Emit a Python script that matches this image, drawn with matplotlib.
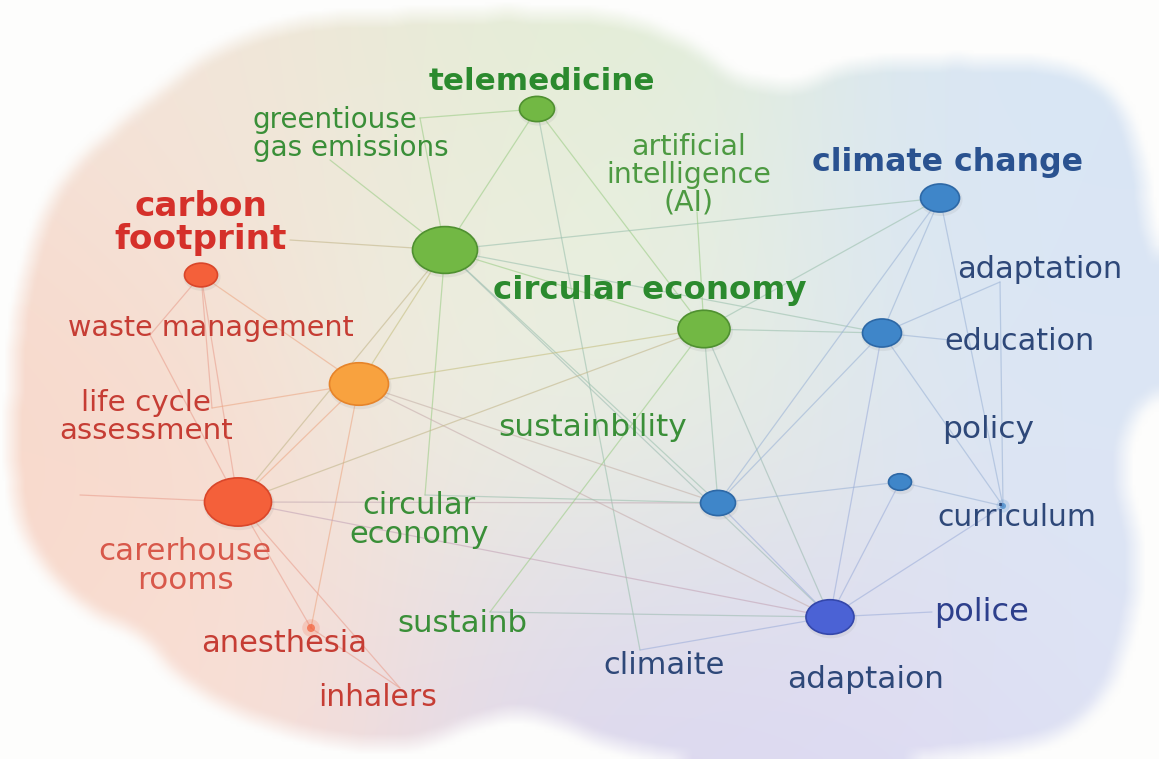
import numpy as np
import matplotlib
matplotlib.use("Agg")
import matplotlib.pyplot as plt
from matplotlib.patches import Ellipse
from matplotlib.path import Path

# keyword nodes: layout position (px), circle width, cluster
node_names = ["tele", "hubG", "cfp", "orng", "hubR", "ce", "cc", "bmid",
              "blow", "bsml", "curr", "adpt", "anes"]
node_x = [537, 445, 201, 359, 238, 704, 940, 882, 718, 900, 1003, 830, 311]
node_y = [109, 250, 275, 384, 502, 329, 198, 333, 503, 482, 506, 617, 628]
node_w = [35, 65, 33, 59, 67, 52, 39, 39, 35, 23, 6, 48, 8]
node_cluster = ["g", "g", "r", "o", "r", "g", "b", "b", "b", "b", "b", "i", "r"]

# label ends that links run into (no circle drawn)
anchor_names = ["ghgA", "ghgB", "cfpL", "aiL", "adL", "eduL", "ceL", "lcaL",
                "left", "susL", "climL", "policeL", "inhL", "wmL"]
anchor_x = [420, 330, 290, 697, 1000, 950, 425, 212, 80, 490, 640, 932, 400, 150]
anchor_y = [118, 160, 240, 212, 282, 340, 495, 408, 495, 612, 650, 612, 688, 335]
anchor_cluster = ["g", "g", "r", "g", "b", "b", "g", "r", "r", "g", "b", "b", "r", "r"]

edges = [
    ("tele", "hubG"), ("tele", "ce"), ("tele", "ghgA"), ("tele", "climL"),
    ("hubG", "cc"), ("hubG", "ce"), ("hubG", "bmid"), ("hubG", "cfpL"),
    ("hubG", "orng"), ("hubG", "ceL"), ("hubG", "ghgB"), ("hubG", "ghgA"),
    ("hubG", "blow"), ("hubG", "adpt"), ("hubG", "hubR"),
    ("cfp", "hubR"), ("cfp", "lcaL"), ("cfp", "orng"), ("cfp", "wmL"),
    ("orng", "ce"), ("orng", "lcaL"), ("orng", "hubR"), ("orng", "blow"),
    ("orng", "adpt"), ("orng", "anes"),
    ("hubR", "ce"), ("hubR", "blow"), ("hubR", "anes"), ("hubR", "inhL"),
    ("hubR", "left"), ("hubR", "adpt"), ("hubR", "wmL"),
    ("ce", "bmid"), ("ce", "cc"), ("ce", "blow"), ("ce", "adpt"),
    ("ce", "susL"), ("ce", "aiL"),
    ("cc", "bmid"), ("cc", "curr"), ("cc", "blow"),
    ("bmid", "adpt"), ("bmid", "blow"), ("bmid", "curr"), ("bmid", "adL"),
    ("bmid", "eduL"),
    ("blow", "bsml"), ("blow", "adpt"), ("blow", "ceL"),
    ("bsml", "adpt"), ("bsml", "curr"),
    ("adpt", "policeL"), ("adpt", "curr"), ("adpt", "susL"), ("adpt", "climL"),
    ("anes", "inhL"), ("adL", "curr"),
]

label_text = ["telemedicine", "greentiouse\ngas emissions", "artificial\nintelligence\n(AI)",
              "climate change", "carbon\nfootprint", "circular economy", "waste management",
              "adaptation", "education", "life cycle\nassessment", "sustainbility", "policy",
              "circular\neconomy", "curriculum", "carerhouse\nrooms", "sustainb", "police",
              "anesthesia", "climaite", "adaptaion", "inhalers"]
label_x = [542, 253, 689, 948, 201, 650, 211, 1040, 1020, 146, 593, 988, 419, 1017, 185,
           462, 982, 284, 664, 866, 378]
label_y = [81, 134, 175, 162, 223, 291, 328, 269, 342, 417, 427, 430, 520, 517, 566,
           624, 612, 643, 665, 680, 698]
label_style = ["gB", "g", "gL", "bB", "rB", "gB", "r", "b", "b", "r", "g", "b", "g", "b",
               "rL", "g", "i", "r", "b", "b", "r"]
label_size = [22.3, 20, 20.5, 22.8, 24.7, 23.4, 20.6, 22, 21.8, 21.2, 22.5, 22.5, 22,
              21.4, 22.3, 22.2, 23, 22, 22, 22.5, 21.5]

# soft background blob outline
blob_x = [300, 400, 520, 620, 690, 740, 800, 850, 950, 1060, 1115, 1140, 1150, 1175, 1175,
          1135, 1122, 1135, 1132, 1105, 1050, 950, 820, 700, 610, 560, 515, 470, 410, 330,
          240, 180, 140, 85, 40, 15, 12, 20, 50, 100, 160, 220]
blob_y = [22, 15, 12, 18, 45, 78, 84, 66, 60, 66, 98, 160, 230, 300, 370, 415, 470, 540,
          610, 690, 735, 752, 762, 758, 742, 722, 712, 722, 742, 738, 712, 675, 635, 605,
          560, 500, 400, 300, 200, 140, 90, 48]

fill = {"g": "#72b844", "r": "#f4603a", "o": "#f8a23f", "b": "#3f86c9", "i": "#4b62d5"}
rim = {"g": "#4f9030", "r": "#d9462a", "o": "#e6842a", "b": "#2d68a6", "i": "#3447aa"}
link = {"g": "#9dcd88", "r": "#e9a090", "o": "#eeb27e", "b": "#9db4d6", "i": "#a0aade"}
text_col = {"gB": "#2b8a2e", "g": "#3a8f38", "gL": "#4d9a42", "bB": "#2a5290",
            "b": "#2e4879", "i": "#2d3f8c", "rB": "#d5302a", "r": "#c63d34", "rL": "#d8584a"}

W, H = 1159, 759
fig = plt.figure(figsize=(W / 100, H / 100), dpi=100, facecolor="#fdfdfc")
ax = fig.add_axes([0, 0, 1, 1])
ax.axis("off")


def catmull(px, py, n=24):
    p = np.column_stack([px, py]).astype(float)
    out = []
    for i in range(len(p)):
        p0, p1, p2, p3 = p[i - 1], p[i], p[(i + 1) % len(p)], p[(i + 2) % len(p)]
        for t in np.linspace(0, 1, n, endpoint=False):
            t2, t3 = t * t, t * t * t
            out.append(0.5 * ((2 * p1) + (-p0 + p2) * t + (2 * p0 - 5 * p1 + 4 * p2 - p3) * t2
                              + (-p0 + 3 * p1 - 3 * p2 + p3) * t3))
    return np.array(out)


def box_blur(a, r):
    k = 2 * r + 1
    p = np.pad(a, r, mode="edge")
    c = np.cumsum(np.cumsum(p, 0), 1)
    c = np.pad(c, ((1, 0), (1, 0)))
    return (c[k:, k:] - c[:-k, k:] - c[k:, :-k] + c[:-k, :-k]) / (k * k)


# background colour field
step = 3
gx, gy = np.meshgrid(np.arange(0, W, step), np.arange(0, H, step))
spots = [(110, 420, "#f8d8cb"), (280, 660, "#fbe0d4"), (250, 150, "#f5e4da"),
         (520, 120, "#e0eed4"), (520, 330, "#f1f1e6"), (650, 430, "#e6f0dc"),
         (980, 250, "#d9e6f5"), (1060, 500, "#dde5f5"), (790, 700, "#dfdaf3"),
         (590, 700, "#d8d4f2")]
acc = np.zeros(gx.shape + (3,))
wsum = np.zeros(gx.shape)
for sx, sy, col in spots:
    w = np.exp(-((gx - sx) ** 2 + (gy - sy) ** 2) / (2 * 170.0 ** 2)) + 1e-9
    acc += w[..., None] * np.array(matplotlib.colors.to_rgb(col))
    wsum += w
rgb = acc / wsum[..., None]
outline = catmull(blob_x, blob_y)
inside = Path(outline).contains_points(np.column_stack([gx.ravel(), gy.ravel()]))
mask = box_blur(inside.reshape(gx.shape).astype(float), 3)
img = np.dstack([rgb, mask])
ax.imshow(img, extent=(0, W, H, 0), origin="upper", interpolation="bilinear", zorder=0)
ax.set_xlim(0, W)
ax.set_ylim(H, 0)

# gather positions
pos = {}
clus = {}
for n, x, y, c in zip(node_names, node_x, node_y, node_cluster):
    pos[n] = (x, y)
    clus[n] = c
for n, x, y, c in zip(anchor_names, anchor_x, anchor_y, anchor_cluster):
    pos[n] = (x, y)
    clus[n] = c

for a, b in edges:
    ca = np.array(matplotlib.colors.to_rgb(link[clus[a]]))
    cb = np.array(matplotlib.colors.to_rgb(link[clus[b]]))
    ax.plot([pos[a][0], pos[b][0]], [pos[a][1], pos[b][1]], color=(ca + cb) / 2,
            lw=0.9, alpha=0.6, zorder=1, solid_capstyle="round")

for n, x, y, w, c in zip(node_names, node_x, node_y, node_w, node_cluster):
    h = w * 0.72
    if w < 10:
        ax.add_patch(Ellipse((x, y), w * 2.2, w * 2.2, color=fill[c], alpha=0.18, lw=0, zorder=2))
        ax.add_patch(Ellipse((x, y), w, w, color=fill[c], alpha=0.7, lw=0, zorder=3))
        continue
    ax.add_patch(Ellipse((x + 1, y + 2), w + 4, h + 4, color="#888888", alpha=0.12, lw=0, zorder=2))
    ax.add_patch(Ellipse((x, y), w, h, facecolor=fill[c], edgecolor=rim[c], lw=1.2, zorder=3))

for t, x, y, s, fs in zip(label_text, label_x, label_y, label_style, label_size):
    ha = "left" if t.startswith("greentiouse") else "center"
    ax.text(x, y, t, ha=ha, va="center", color=text_col[s], fontsize=fs,
            fontweight="bold" if s.endswith("B") else "normal", linespacing=0.98, zorder=4)

fig.savefig("out.png", dpi=100, facecolor=fig.get_facecolor())
